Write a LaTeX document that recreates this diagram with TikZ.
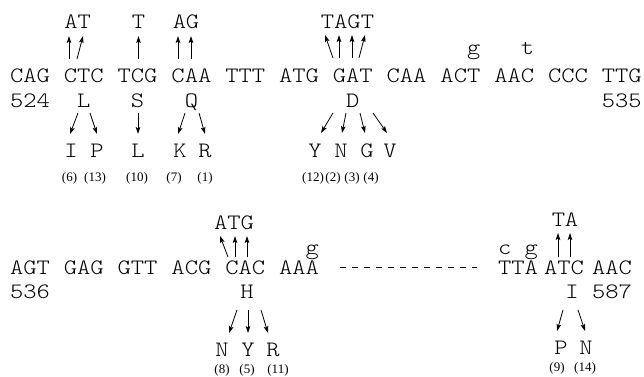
\documentclass[tikz,border=0pt]{standalone}
\usepackage{fontspec}
\setmainfont{Liberation Serif}
\newfontfamily\seqfont{lmmonolt10-regular.otf}[FakeStretch=1.15]
\usetikzlibrary{arrows.meta,calc}

\tikzset{
  seq/.style={font=\seqfont\fontsize{22}{22}\selectfont, inner sep=0pt, anchor=base},
  freq/.style={font=\fontsize{13}{13}\selectfont, inner sep=0pt, anchor=base},
  mut/.style={-{Stealth[length=7pt,width=4.6pt,inset=1.5pt]}, line width=0.8pt},
  gapline/.style={dash pattern=on 6pt off 6pt, line width=0.8pt}
}

\begin{document}
\begin{tikzpicture}[x=1pt,y=-1pt]
\useasboundingbox (0,0) rectangle (644,376);

% ---------- first stretch: codons 524-535 ----------
\foreach \cod/\nm [count=\i from 0] in
  {CAG/CAGa, CTC/CTC, TCG/TCG, CAA/CAAa, TTT/TTT, ATG/ATGa,
   GAT/GAT, CAA/CAAb, ACT/ACT, AAC/AACa, CCC/CCC, TTG/TTG}
  \node[seq] (\nm) at ({30+53.8*\i},82) {\cod};

\node[seq] (n524) at (30,107) {524};
\node[seq] (n535) at (621.8,107) {535};
\node[seq] (aaL) at (83.8,107) {L};
\node[seq] (aaS) at (137.6,107) {S};
\node[seq] (aaQ) at (191.4,107) {Q};
\node[seq] (aaD) at (352.8,107) {D};

% substituted bases above the codons
\node[seq] (uA1) at (70.9,28) {A};
\node[seq] (uT1) at (84.2,28) {T};
\node[seq] (uT2) at (138.5,28) {T};
\node[seq] (uA3) at (179.4,28) {A};
\node[seq] (uG3) at (192.6,28) {G};
\node[seq] (uT4) at (327.5,28) {T};
\node[seq] (uA4) at (340.8,28) {A};
\node[seq] (uG4) at (354.1,28) {G};
\node[seq] (uT5) at (367.4,28) {T};

% silent changes
\node[seq] (sg1) at (473.7,54) {g};
\node[seq] (st1) at (527.5,54) {t};

% resulting amino acids
\node[seq] (mI)  at (71,157)  {I};
\node[seq] (mP)  at (97,157)  {P};
\node[seq] (mL)  at (138,157) {L};
\node[seq] (mK)  at (180,157) {K};
\node[seq] (mR)  at (205,157) {R};
\node[seq] (mY)  at (315,157) {Y};
\node[seq] (mN)  at (341,157) {N};
\node[seq] (mG)  at (367,157) {G};
\node[seq] (mV)  at (390,157) {V};

\node[freq] (f6)  at (69.5,181) {(6)};
\node[freq] (f13) at (95,181)   {(13)};
\node[freq] (f10) at (137,181)  {(10)};
\node[freq] (f7)  at (174,181)  {(7)};
\node[freq] (f1)  at (205,181)  {(1)};
\node[freq] (f12) at (313,181)  {(12)};
\node[freq] (f2)  at (333,181)  {(2)};
\node[freq] (f3)  at (352,181)  {(3)};
\node[freq] (f4)  at (371,181)  {(4)};

% base changes
\draw[mut] ($(CTC.base)+(-14.8,-23)$) -- ($(uA1.base)+(-1.9,8)$);
\draw[mut] ($(CTC.base)+(-6.8,-23)$)  -- ($(uT1.base)+(-1.2,8)$);
\draw[mut] ($(TCG.base)+(0.9,-23)$)   -- ($(uT2.base)+(0,8)$);
\draw[mut] ($(CAAa.base)+(-13.4,-23)$) -- ($(uA3.base)+(-1.4,8)$);
\draw[mut] ($(CAAa.base)+(-0.4,-23)$)  -- ($(uG3.base)+(-1.6,8)$);
\draw[mut] ($(GAT.base)+(-19.8,-24)$) -- ($(uT4.base)+(-2.5,7)$);
\draw[mut] ($(GAT.base)+(-13.8,-24)$) -- ($(uA4.base)+(-1.8,7)$);
\draw[mut] ($(GAT.base)+(-0.8,-24)$)  -- ($(uG4.base)+(-2.1,7)$);
\draw[mut] ($(GAT.base)+(6.2,-24)$)   -- ($(uT5.base)+(-2.4,7)$);

% amino acid changes
\draw[mut] ($(aaL.base)+(-5.8,6)$) -- ($(mI.base)+(-1,-23)$);
\draw[mut] ($(aaL.base)+(6.2,6)$)  -- ($(mP.base)+(0,-23)$);
\draw[mut] ($(aaS.base)+(0.4,6)$)  -- ($(mL.base)+(0,-23)$);
\draw[mut] ($(aaQ.base)+(-6.4,6)$) -- ($(mK.base)+(-2,-23)$);
\draw[mut] ($(aaQ.base)+(7.6,6)$)  -- ($(mR.base)+(0,-23)$);
\draw[mut] ($(aaD.base)+(-19.8,6)$) -- ($(mY.base)+(6,-24)$);
\draw[mut] ($(aaD.base)+(-6.8,6)$)  -- ($(mN.base)+(1,-24)$);
\draw[mut] ($(aaD.base)+(7.2,6)$)   -- ($(mG.base)+(-2,-24)$);
\draw[mut] ($(aaD.base)+(20.2,6)$)  -- ($(mV.base)+(-3,-24)$);

% ---------- second stretch: codons 536-587 ----------
\foreach \cod/\nm [count=\i from 0] in
  {AGT/AGT, GAG/GAG, GTT/GTT, ACG/ACG, CAC/CAC, AAA/AAA}
  \node[seq] (\nm) at ({30+53.8*\i},274) {\cod};
\node[seq] (TTA)  at (518,274) {TTA};
\node[seq] (ATC)  at (564,274) {ATC};
\node[seq] (AACb) at (612,274) {AAC};

\draw[gapline] ($(AAA.base)+(41,-7)$) -- ($(TTA.base)+(-41,-7)$);

\node[seq] (n536) at (30,298)  {536};
\node[seq] (n587) at (612,298) {587};
\node[seq] (aaH)  at (247,298) {H};
\node[seq] (aaI)  at (572,298) {I};

\node[seq] (vA1) at (220.7,229) {A};
\node[seq] (vT1) at (234,229)   {T};
\node[seq] (vG1) at (247.3,229) {G};
\node[seq] (vT2) at (558.4,226) {T};
\node[seq] (vA2) at (571.6,226) {A};

\node[seq] (sg2) at (312.3,254) {g};
\node[seq] (sc3) at (504.7,254) {c};
\node[seq] (sg3) at (531.3,254) {g};

\node[seq] (hN) at (222,356) {N};
\node[seq] (hY) at (248,356) {Y};
\node[seq] (hR) at (273,356) {R};
\node[seq] (iP) at (561,354) {P};
\node[seq] (iN) at (586,354) {N};

\node[freq] (f8)  at (222,373.5) {(8)};
\node[freq] (f5)  at (247,373.5) {(5)};
\node[freq] (f11) at (278,373.5) {(11)};
\node[freq] (f9)  at (557,371.5) {(9)};
\node[freq] (f14) at (585,371.5) {(14)};

\draw[mut] ($(CAC.base)+(-17.2,-17)$) -- ($(vA1.base)+(-0.7,7)$);
\draw[mut] ($(CAC.base)+(-10.2,-17)$) -- ($(vT1.base)+(1,7)$);
\draw[mut] ($(CAC.base)+(1.8,-17)$)   -- ($(vG1.base)+(-0.3,7)$);
\draw[mut] ($(ATC.base)+(-6,-17)$)    -- ($(vT2.base)+(-0.4,7)$);
\draw[mut] ($(ATC.base)+(6,-17)$)     -- ($(vA2.base)+(-1.6,7)$);

\draw[mut] ($(aaH.base)+(-10,12)$) -- ($(hN.base)+(7,-23)$);
\draw[mut] ($(aaH.base)+(1,12)$)   -- ($(hY.base)+(0,-23)$);
\draw[mut] ($(aaH.base)+(14,12)$)  -- ($(hR.base)+(-5,-23)$);
\draw[mut] ($(aaI.base)+(-9,12)$)  -- ($(iP.base)+(-4,-23)$);
\draw[mut] ($(aaI.base)+(6,12)$)   -- ($(iN.base)+(-1,-23)$);
\end{tikzpicture}
\end{document}
